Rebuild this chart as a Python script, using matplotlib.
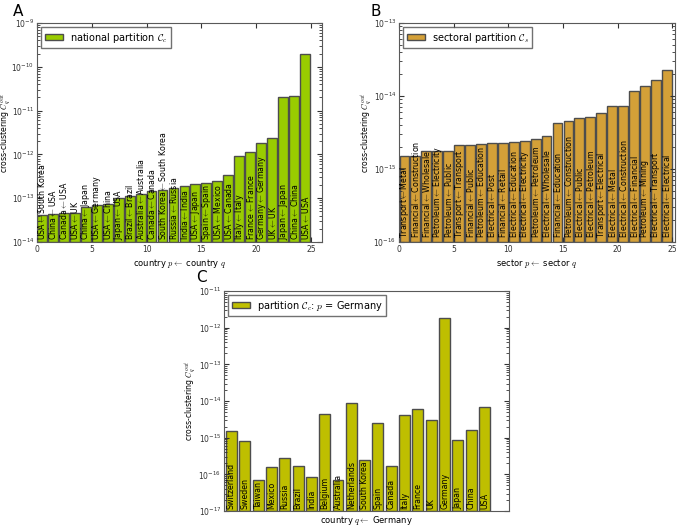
import matplotlib
matplotlib.use("Agg")
import matplotlib.pyplot as plt
import numpy as np

# Panel A data
a_labels = ["USA$\\leftarrow$South Korea", "China$\\leftarrow$USA", "Canada$\\leftarrow$USA", "USA$\\leftarrow$UK",
            "China$\\leftarrow$Japan", "USA$\\leftarrow$Germany", "USA$\\leftarrow$China", "Japan$\\leftarrow$USA",
            "Brazil$\\leftarrow$Brazil", "Australia$\\leftarrow$Australia", "Canada$\\leftarrow$Canada",
            "South Korea$\\leftarrow$South Korea", "Russia$\\leftarrow$Russia", "India$\\leftarrow$India",
            "USA$\\leftarrow$Japan", "Spain$\\leftarrow$Spain", "USA$\\leftarrow$Mexico", "USA$\\leftarrow$Canada",
            "Italy$\\leftarrow$Italy", "France$\\leftarrow$France", "Germany$\\leftarrow$Germany", "UK$\\leftarrow$UK",
            "Japan$\\leftarrow$Japan", "China$\\leftarrow$China", "USA$\\leftarrow$USA"]
a_values = [3.06e-14, 3.4e-14, 3.5e-14, 3.6e-14, 5.2e-14, 5.9e-14, 6.3e-14, 9.0e-14, 1.02e-13, 1.15e-13,
            1.37e-13, 1.45e-13, 1.6e-13, 1.82e-13, 1.99e-13, 2.13e-13, 2.32e-13, 3.35e-13, 9.2e-13, 1.12e-12,
            1.79e-12, 2.37e-12, 2.03e-11, 2.14e-11, 2.0e-10]

# Panel B data
b_labels = ["Transport$\\leftarrow$Metal", "Financial$\\leftarrow$Construction", "Financial$\\leftarrow$Wholesale",
            "Petroleum$\\leftarrow$Electricity", "Petroleum$\\leftarrow$Public", "Transport$\\leftarrow$Transport",
            "Financial$\\leftarrow$Public", "Petroleum$\\leftarrow$Education", "Electrical$\\leftarrow$Post",
            "Financial$\\leftarrow$Retail", "Electrical$\\leftarrow$Education", "Electrical$\\leftarrow$Electricity",
            "Petroleum$\\leftarrow$Petroleum", "Electrical$\\leftarrow$Wholesale", "Financial$\\leftarrow$Education",
            "Petroleum$\\leftarrow$Construction", "Electrical$\\leftarrow$Public", "Electrical$\\leftarrow$Petroleum",
            "Transport$\\leftarrow$Electrical", "Electrical$\\leftarrow$Metal", "Electrical$\\leftarrow$Construction",
            "Electrical$\\leftarrow$Financial", "Petroleum$\\leftarrow$Mining", "Electrical$\\leftarrow$Transport",
            "Electrical$\\leftarrow$Electrical"]
b_values = [1.40e-15, 1.43e-15, 1.64e-15, 1.64e-15, 1.68e-15, 2.02e-15, 2.02e-15, 2.11e-15, 2.18e-15, 2.2e-15,
            2.25e-15, 2.34e-15, 2.47e-15, 2.74e-15, 4.22e-15, 4.44e-15, 4.83e-15, 5.04e-15, 5.71e-15, 7.27e-15,
            7.27e-15, 1.15e-14, 1.38e-14, 1.66e-14, 2.23e-14]

# Panel C data
c_labels = ["Switzerland", "Sweden", "Taiwan", "Mexico", "Russia", "Brazil", "India", "Belgium", "Australia",
            "Netherlands", "South Korea", "Spain", "Canada", "Italy", "France", "UK", "Germany", "Japan",
            "China", "USA"]
c_values = [1.50e-15, 8.2e-16, 5.9e-17, 1.53e-16, 2.75e-16, 1.59e-16, 7.5e-17, 4.47e-15, 6.1e-17, 8.75e-15,
            2.32e-16, 2.43e-15, 1.56e-16, 4.03e-15, 6.12e-15, 3.06e-15, 1.80e-12, 8.35e-16, 1.57e-15, 6.8e-15]

plt.rcParams.update({
    "font.family": "DejaVu Sans",
    "mathtext.fontset": "cm",
    "xtick.direction": "in",
    "ytick.direction": "in",
    "xtick.top": True,
    "ytick.right": True,
    "axes.edgecolor": "0.35",
    "xtick.color": "0.2",
    "ytick.color": "0.2",
    "xtick.labelsize": 5.5,
    "ytick.labelsize": 5.5,
    "xtick.major.pad": 2.5,
    "ytick.major.pad": 2,
    "axes.labelsize": 6,
})

fig = plt.figure(figsize=(6.87, 5.27), dpi=100)
W, H = 687.0, 527.0

def make_ax(l, r, t, b):
    return fig.add_axes([l / W, 1 - b / H, (r - l) / W, (b - t) / H])

def draw(ax, labels, values, color, ylim, xlim, width, offset, legend, xlabel, ylab_x):
    x = np.arange(len(values)) + offset
    ax.bar(x, values, width=width, align="edge", color=color, edgecolor="0.3",
           linewidth=1.0, bottom=ylim[0], label=legend)
    ax.set_yscale("log")
    ax.set_ylim(*ylim)
    ax.set_xlim(*xlim)
    for xi, lab in zip(x, labels):
        ax.text(xi + width / 2, ylim[0] * 1.12, lab, rotation=90, ha="center", va="bottom",
                fontsize=5.7, color="black")
    ax.set_ylabel("cross-clustering $C_q^{out}$", fontsize=5.6)
    ax.yaxis.set_label_coords(ylab_x, 0.5)
    ax.set_xlabel(xlabel, labelpad=2)
    leg = ax.legend(loc="upper left", fontsize=7, frameon=True, fancybox=False,
                    handlelength=1.9, handleheight=0.6, handletextpad=0.7,
                    borderpad=0.35, borderaxespad=0.45)
    leg.get_frame().set_edgecolor("0.3")

axA = make_ax(37, 322, 23, 242)
draw(axA, a_labels, a_values, "#99cc00", (1e-14, 1e-9), (0, 26), 0.9, 0.0,
     "national partition $\\mathcal{C}_c$", "country $p\\leftarrow$ country $q$", -0.085)
axA.set_xticks([0, 5, 10, 15, 20, 25])

axB = make_ax(399, 675, 23, 242)
draw(axB, b_labels, b_values, "#d4a038", (1e-16, 1e-13), (0, 25.25), 0.9, 0.05,
     "sectoral partition $\\mathcal{C}_s$", "sector $p\\leftarrow$ sector $q$", -0.09)
axB.set_xticks([0, 5, 10, 15, 20, 25])

axC = make_ax(224, 509, 291, 511)
draw(axC, c_labels, c_values, "#bfbf00", (1e-17, 1e-11), (-0.15, 21.25), 0.82, 0.0,
     "partition $\\mathcal{C}_c$: $p$ = Germany", "country $q\\leftarrow$ Germany", -0.09)
axC.set_xticks([])

fig.text(13 / W, 1 - 12 / H, "A", fontsize=11, va="center", ha="left")
fig.text(371 / W, 1 - 12 / H, "B", fontsize=11, va="center", ha="left")
fig.text(196 / W, 1 - 278 / H, "C", fontsize=11, va="center", ha="left")

fig.savefig("out.png", dpi=100)
